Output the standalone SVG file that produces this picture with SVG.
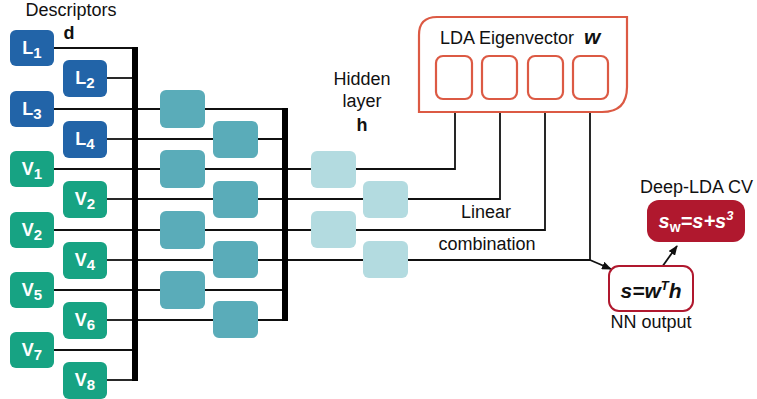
<svg xmlns="http://www.w3.org/2000/svg" width="757" height="399" viewBox="0 0 757 399">
<style>
text{font-family:"Liberation Sans",Arial,sans-serif;}
.lbl{font-size:18px;fill:#111;}
.dL{fill:#2264a8;}
.dV{fill:#17a383;}
.bx{font-size:18px;font-weight:bold;fill:#fff;text-anchor:middle;}
.sub{font-size:15px;}
.h1{fill:#5aacb9;}
.h2{fill:#b3dbe0;}
.ln{stroke:#111;stroke-width:1.8;fill:none;}
.bar{fill:#000;}
.ldabox{fill:#fff;stroke:#dc5a44;stroke-width:2.2;}
</style>
<defs>
<marker id="ah" markerWidth="10" markerHeight="8" refX="9" refY="4" orient="auto" markerUnits="userSpaceOnUse">
<path d="M0,0 L10,4 L0,8 z" fill="#111"/>
</marker>
</defs>

<g id="connectors">
<line class="ln" x1="54" y1="48" x2="134" y2="48"/>
<line class="ln" x1="107" y1="78" x2="134" y2="78"/>
<line class="ln" x1="54" y1="109" x2="134" y2="109"/>
<line class="ln" x1="107" y1="139" x2="134" y2="139"/>
<line class="ln" x1="54" y1="169" x2="134" y2="169"/>
<line class="ln" x1="107" y1="199" x2="134" y2="199"/>
<line class="ln" x1="54" y1="230" x2="134" y2="230"/>
<line class="ln" x1="107" y1="260" x2="134" y2="260"/>
<line class="ln" x1="54" y1="290" x2="134" y2="290"/>
<line class="ln" x1="107" y1="320" x2="134" y2="320"/>
<line class="ln" x1="54" y1="350" x2="134" y2="350"/>
<line class="ln" x1="107" y1="380" x2="134" y2="380"/>
<line class="ln" x1="138" y1="109" x2="284" y2="109"/>
<line class="ln" x1="138" y1="139" x2="284" y2="139"/>
<line class="ln" x1="138" y1="169" x2="284" y2="169"/>
<line class="ln" x1="138" y1="199" x2="284" y2="199"/>
<line class="ln" x1="138" y1="230" x2="284" y2="230"/>
<line class="ln" x1="138" y1="260" x2="284" y2="260"/>
<line class="ln" x1="138" y1="290" x2="284" y2="290"/>
<line class="ln" x1="138" y1="320" x2="284" y2="320"/>
<polyline class="ln" points="288,169 455,169 455,99"/>
<polyline class="ln" points="288,199 500,199 500,99"/>
<polyline class="ln" points="288,230 545,230 545,99"/>
<polyline class="ln" points="288,260 590,260 590,99"/>
<line class="ln" x1="590" y1="260" x2="611" y2="269" marker-end="url(#ah)"/>
<line class="ln" x1="662" y1="267" x2="677" y2="246" marker-end="url(#ah)"/>
<rect class="bar" x="132" y="47" width="6" height="334"/>
<rect class="bar" x="282" y="108" width="6" height="213"/>
</g>

<text class="lbl" x="71" y="16" text-anchor="middle">Descriptors</text>
<text class="lbl" x="69" y="39" text-anchor="middle" font-weight="bold">d</text>

<g id="L1"><rect class="dL" x="10" y="30" width="44" height="36" rx="6"/><text class="bx" x="32" y="54">L<tspan class="sub" dy="4">1</tspan></text></g>
<g id="L2"><rect class="dL" x="63" y="60" width="44" height="37" rx="6"/><text class="bx" x="85" y="84">L<tspan class="sub" dy="4">2</tspan></text></g>
<g id="L3"><rect class="dL" x="10" y="91" width="44" height="36" rx="6"/><text class="bx" x="32" y="115">L<tspan class="sub" dy="4">3</tspan></text></g>
<g id="L4"><rect class="dL" x="63" y="121" width="44" height="37" rx="6"/><text class="bx" x="85" y="145">L<tspan class="sub" dy="4">4</tspan></text></g>
<g id="V1"><rect class="dV" x="10" y="151" width="44" height="36" rx="6"/><text class="bx" x="32" y="175">V<tspan class="sub" dy="4">1</tspan></text></g>
<g id="V2a"><rect class="dV" x="63" y="181" width="44" height="37" rx="6"/><text class="bx" x="85" y="205">V<tspan class="sub" dy="4">2</tspan></text></g>
<g id="V2b"><rect class="dV" x="10" y="212" width="44" height="36" rx="6"/><text class="bx" x="32" y="236">V<tspan class="sub" dy="4">2</tspan></text></g>
<g id="V4"><rect class="dV" x="63" y="242" width="44" height="37" rx="6"/><text class="bx" x="85" y="266">V<tspan class="sub" dy="4">4</tspan></text></g>
<g id="V5"><rect class="dV" x="10" y="272" width="44" height="36" rx="6"/><text class="bx" x="32" y="296">V<tspan class="sub" dy="4">5</tspan></text></g>
<g id="V6"><rect class="dV" x="63" y="302" width="44" height="37" rx="6"/><text class="bx" x="85" y="326">V<tspan class="sub" dy="4">6</tspan></text></g>
<g id="V7"><rect class="dV" x="10" y="332" width="44" height="36" rx="6"/><text class="bx" x="32" y="356">V<tspan class="sub" dy="4">7</tspan></text></g>
<g id="V8"><rect class="dV" x="63" y="362" width="44" height="37" rx="6"/><text class="bx" x="85" y="386">V<tspan class="sub" dy="4">8</tspan></text></g>

<g id="n1a"><rect class="h1" x="160" y="90" width="45" height="38" rx="6"/></g>
<g id="n1b"><rect class="h1" x="213" y="121" width="45" height="37" rx="6"/></g>
<g id="n1c"><rect class="h1" x="160" y="150" width="45" height="38" rx="6"/></g>
<g id="n1d"><rect class="h1" x="213" y="181" width="45" height="37" rx="6"/></g>
<g id="n1e"><rect class="h1" x="160" y="211" width="45" height="38" rx="6"/></g>
<g id="n1f"><rect class="h1" x="213" y="241" width="45" height="37" rx="6"/></g>
<g id="n1g"><rect class="h1" x="160" y="271" width="45" height="38" rx="6"/></g>
<g id="n1h"><rect class="h1" x="213" y="301" width="45" height="37" rx="6"/></g>

<text class="lbl" x="362" y="85" text-anchor="middle">Hidden</text>
<text class="lbl" x="362" y="107" text-anchor="middle">layer</text>
<text class="lbl" x="362" y="131" text-anchor="middle" font-weight="bold">h</text>

<g id="h1"><rect class="h2" x="311" y="151" width="45" height="37" rx="6"/></g>
<g id="h2"><rect class="h2" x="363" y="181" width="45" height="37" rx="6"/></g>
<g id="h3"><rect class="h2" x="311" y="211" width="45" height="37" rx="6"/></g>
<g id="h4"><rect class="h2" x="363" y="241" width="45" height="37" rx="6"/></g>

<g id="lda">
<path class="ldabox" d="M419,112 L419,35 Q419,17 437,17 L627,17 L627,87 Q627,112 602,112 Z"/>
<text class="lbl" x="440" y="44" style="font-size:18px">LDA Eigenvector</text>
<text x="584" y="44" style="font-size:21px;font-weight:bold;font-style:italic;fill:#111">w</text>
<rect class="ldabox" x="436" y="56" width="36" height="43" rx="7"/>
<rect class="ldabox" x="482" y="56" width="35" height="43" rx="7"/>
<rect class="ldabox" x="528" y="56" width="35" height="43" rx="7"/>
<rect class="ldabox" x="573" y="56" width="35" height="43" rx="7"/>
</g>

<text class="lbl" x="486" y="218" text-anchor="middle">Linear</text>
<text class="lbl" x="487" y="250" text-anchor="middle">combination</text>

<g id="nn">
<rect x="609" y="266" width="84" height="45" rx="10" fill="#fff" stroke="#b0182e" stroke-width="2"/>
<text x="651" y="298" text-anchor="middle" style="font-size:21px;font-weight:bold;font-style:italic;fill:#111">s=w<tspan dy="-8" style="font-size:13px">T</tspan><tspan dy="8">h</tspan></text>
<text class="lbl" x="651" y="328" text-anchor="middle">NN output</text>
</g>

<g id="cv">
<text class="lbl" x="640" y="193">Deep-LDA CV</text>
<rect x="647" y="200" width="98" height="42" rx="12" fill="#b0182e"/>
<text x="696" y="228" text-anchor="middle" style="font-size:20px;font-weight:bold;font-style:italic;fill:#fff">s<tspan dy="4" style="font-size:14px;font-style:normal">w</tspan><tspan dy="-4">=s+s</tspan><tspan dy="-8" style="font-size:13px">3</tspan></text>
</g>
</svg>
